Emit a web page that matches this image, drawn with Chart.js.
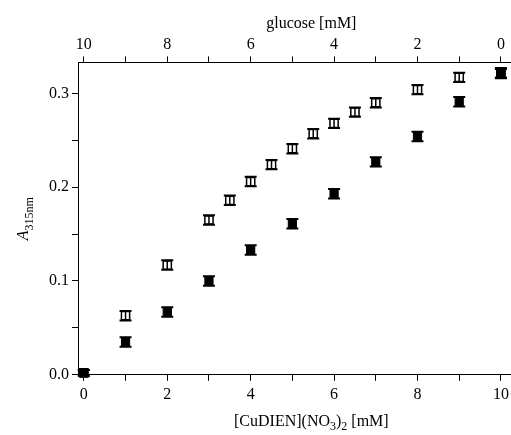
<!DOCTYPE html>
<html>
<head>
<meta charset="utf-8">
<script src="https://cdn.jsdelivr.net/npm/chart.js@4.4.1/dist/chart.umd.min.js"></script>
<style>
html, body { margin: 0; padding: 0; overflow: hidden; background: #fff; }
#wrap { width: 552px; height: 435px; }
</style>
</head>
<body>
<div id="wrap"><canvas id="c" width="552" height="435"></canvas></div>
<script>
// open squares
var openConc = [0, 1, 2, 3, 3.5, 4, 4.5, 5, 5.5, 6, 6.5, 7, 8, 9, 10];
var openAbs = [0.002, 0.063, 0.117, 0.165, 0.186, 0.206, 0.224, 0.241, 0.257, 0.268, 0.280, 0.290, 0.304, 0.317, 0.322];
var openErr = [0.003, 0.005, 0.005, 0.005, 0.005, 0.005, 0.005, 0.005, 0.005, 0.005, 0.005, 0.005, 0.005, 0.005, 0.005];
// filled squares
var fillConc = [0, 1, 2, 3, 4, 5, 6, 7, 8, 9, 10];
var fillAbs = [0.002, 0.035, 0.067, 0.100, 0.133, 0.161, 0.193, 0.227, 0.254, 0.291, 0.321];
var fillErr = [0.003, 0.005, 0.005, 0.005, 0.005, 0.005, 0.005, 0.005, 0.005, 0.005, 0.005];

var xMin = -0.14, xMax = 11.05;
var serif = "'Liberation Serif', 'Times New Roman', serif";

function pts(xs, ys) {
  var out = [];
  for (var i = 0; i < xs.length; i++) out.push({x: xs[i], y: ys[i]});
  return out;
}

// error bars with caps, drawn through the markers
var errorBars = {
  id: 'errorBars',
  afterDatasetsDraw: function(chart) {
    var ctx = chart.ctx;
    var ys = chart.scales.y;
    var errs = [fillErr, openErr];
    ctx.save();
    ctx.strokeStyle = '#000';
    chart.data.datasets.forEach(function(ds, di) {
      var meta = chart.getDatasetMeta(di);
      meta.data.forEach(function(p, i) {
        var v = ds.data[i].y;
        var top = ys.getPixelForValue(v + errs[di][i]);
        var bot = ys.getPixelForValue(v - errs[di][i]);
        ctx.lineWidth = 1.5;
        ctx.beginPath();
        ctx.moveTo(p.x, top); ctx.lineTo(p.x, bot);
        ctx.stroke();
        ctx.lineWidth = 2;
        ctx.beginPath();
        ctx.moveTo(p.x - 6, top); ctx.lineTo(p.x + 6, top);
        ctx.moveTo(p.x - 6, bot); ctx.lineTo(p.x + 6, bot);
        ctx.stroke();
      });
    });
    ctx.restore();
  }
};

function drawParts(ctx, parts, x, y) {
  parts.forEach(function(pt) {
    ctx.font = pt.f;
    ctx.fillText(pt.t, x, y + (pt.dy || 0));
    x += ctx.measureText(pt.t).width;
  });
}
function partsWidth(ctx, parts) {
  var w = 0;
  parts.forEach(function(pt) { ctx.font = pt.f; w += ctx.measureText(pt.t).width; });
  return w;
}

// axis titles with subscripts
var titles = {
  id: 'titles',
  afterDraw: function(chart) {
    var ctx = chart.ctx, a = chart.chartArea;
    var big = '16px ' + serif, small = '12px ' + serif;
    ctx.save();
    ctx.fillStyle = '#000';
    ctx.textBaseline = 'alphabetic';
    var xt = [
      {t: '[CuDIEN](NO', f: big},
      {t: '3', f: small, dy: 4},
      {t: ')', f: big},
      {t: '2', f: small, dy: 4},
      {t: ' [mM]', f: big}
    ];
    var cx = (a.left + a.right) / 2;
    drawParts(ctx, xt, cx - partsWidth(ctx, xt) / 2, a.bottom + 51);

    var yt = [
      {t: 'A', f: 'italic 16px ' + serif},
      {t: '315nm', f: small, dy: 5}
    ];
    ctx.translate(28, (a.top + a.bottom) / 2);
    ctx.rotate(-Math.PI / 2);
    drawParts(ctx, yt, -partsWidth(ctx, yt) / 2, 0);
    ctx.restore();
  }
};

var tickFont = {family: serif, size: 16};
function evenLabel(v) {
  return (v % 2 === 0 && v >= 0 && v <= 10) ? String(v) : '';
}
function axisGrid() {
  return {drawOnChartArea: false, drawTicks: true, tickLength: 6, color: '#000', lineWidth: 1};
}

new Chart(document.getElementById('c'), {
  type: 'scatter',
  data: {
    datasets: [
      {
        data: pts(fillConc, fillAbs),
        pointStyle: 'rect', pointRadius: 5.8, pointHoverRadius: 5.8,
        backgroundColor: '#000', borderColor: '#000', borderWidth: 1
      },
      {
        data: pts(openConc, openAbs),
        pointStyle: 'rect', pointRadius: 5.8, pointHoverRadius: 5.8,
        backgroundColor: '#fff', borderColor: '#000', borderWidth: 1.5
      }
    ]
  },
  options: {
    responsive: false,
    animation: false,
    clip: false,
    layout: {padding: {left: 46, top: 14, bottom: 27, right: 0}},
    plugins: {legend: {display: false}, tooltip: {enabled: false}},
    scales: {
      x: {
        type: 'linear', position: 'bottom', min: xMin, max: xMax,
        grid: axisGrid(),
        border: {color: '#000', width: 1},
        ticks: {stepSize: 1, includeBounds: false, autoSkip: false, maxRotation: 0,
                color: '#000', font: tickFont, padding: 4, callback: evenLabel}
      },
      x2: {
        type: 'linear', position: 'top', reverse: true,
        min: 10 - xMax, max: 10 - xMin,
        grid: axisGrid(),
        border: {color: '#000', width: 1},
        ticks: {stepSize: 1, includeBounds: false, autoSkip: false, maxRotation: 0,
                color: '#000', font: tickFont, padding: 2, callback: evenLabel},
        title: {display: true, text: 'glucose [mM]', color: '#000',
                font: {family: serif, size: 16}, padding: {top: 0, bottom: 0}}
      },
      y: {
        type: 'linear', min: 0, max: 0.333,
        grid: axisGrid(),
        border: {color: '#000', width: 1},
        ticks: {stepSize: 0.05, includeBounds: false, color: '#000', font: tickFont, padding: 3,
                callback: function(v) {
                  return Math.abs(v * 10 - Math.round(v * 10)) < 1e-6 ? v.toFixed(1) : '';
                }}
      }
    }
  },
  plugins: [errorBars, titles]
});
</script>
</body>
</html>
